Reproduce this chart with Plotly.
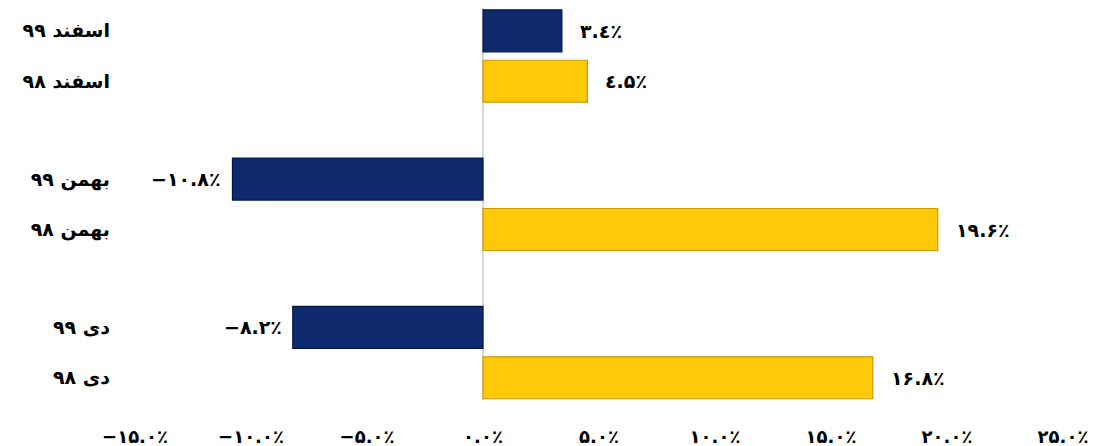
import plotly.graph_objects as go

# ---- data ----
months = ["دی", "بهمن", "اسفند"]          # bottom -> top
year_new = "۹۹"
year_old = "۹۸"
vals_99 = [-8.2, -10.8, 3.4]
vals_98 = [16.8, 19.6, 4.5]
labels_99 = ["−۸.۲٪", "−۱۰.۸٪", "۳.٤٪"]
labels_98 = ["۱۶.۸٪", "۱۹.۶٪", "٤.۵٪"]
xtick_vals = [-15, -10, -5, 0, 5, 10, 15, 20, 25]
xtick_text = ["−۱۵.۰٪", "−۱۰.۰٪", "−۵.۰٪", "۰.۰٪", "۵.۰٪", "۱۰.۰٪", "۱۵.۰٪", "۲۰.۰٪", "۲۵.۰٪"]

LRO, PDF = "\u202d", "\u202c"
FONT = "DejaVu Sans"
BLUE = "#0E2A6C"
BLUE_EDGE = "#06184A"
YELLOW = "#FFC90A"
YELLOW_EDGE = "#C99C00"

off = 0.17
bw = 0.283
y99 = [i + off for i in range(len(months))]
y98 = [i - off for i in range(len(months))]

fig = go.Figure()
fig.add_trace(go.Bar(
    x=vals_99, y=y99, orientation="h", width=bw,
    marker=dict(color=BLUE, line=dict(color=BLUE_EDGE, width=1.2)),
    hoverinfo="skip", showlegend=False,
))
fig.add_trace(go.Bar(
    x=vals_98, y=y98, orientation="h", width=bw,
    marker=dict(color=YELLOW, line=dict(color=YELLOW_EDGE, width=1.2)),
    hoverinfo="skip", showlegend=False,
))

annotations = []
for vals, ys, labs in ((vals_99, y99, labels_99), (vals_98, y98, labels_98)):
    for v, yy, lab in zip(vals, ys, labs):
        annotations.append(dict(
            x=v, y=yy, xref="x", yref="y",
            text=LRO + lab + PDF, showarrow=False,
            xanchor="left" if v >= 0 else "right",
            xshift=16 if v >= 0 else -9,
            font=dict(family=FONT, size=19, color="black", weight="bold"),
        ))

tickvals_y = []
ticktext_y = []
for i, m in enumerate(months):
    tickvals_y += [y99[i], y98[i]]
    ticktext_y += [m + " " + year_new, m + " " + year_old]

fig.update_layout(
    width=1091, height=438, autosize=False,
    margin=dict(l=127, r=36, t=0, b=46),
    plot_bgcolor="white", paper_bgcolor="white",
    barmode="overlay",
    annotations=annotations,
    xaxis=dict(
        range=[-15, 25], tickvals=xtick_vals,
        ticktext=[LRO + t + PDF for t in xtick_text],
        showgrid=False, showline=False,
        zeroline=True, zerolinecolor="#D9D9D9", zerolinewidth=1.5,
        ticks="", ticklabelstandoff=24,
        tickfont=dict(family=FONT, size=18, color="black", weight="bold"),
    ),
    yaxis=dict(
        range=[-0.32, 2.324], tickvals=tickvals_y, ticktext=ticktext_y,
        showgrid=False, showline=False, zeroline=False,
        ticks="", ticklabelstandoff=24,
        tickfont=dict(family=FONT, size=19, color="black", weight="bold"),
    ),
)

fig.write_html("out.html")
